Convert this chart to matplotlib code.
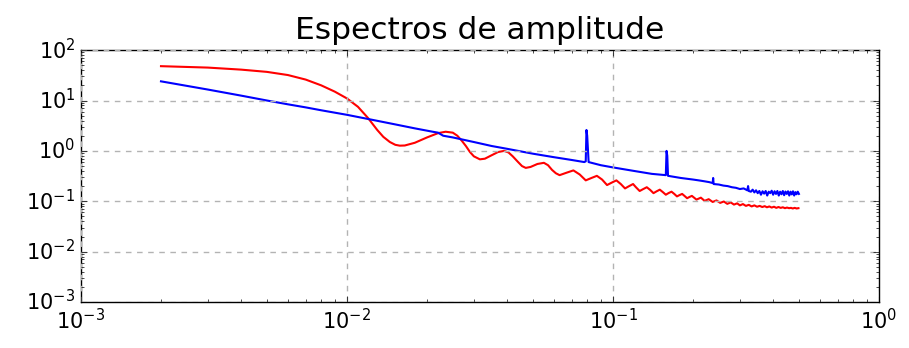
#!/usr/bin/env python3
import matplotlib
matplotlib.use('Agg')
import matplotlib.pyplot as plt

# Red spectrum (smooth, sinc-like lobes)
f_red = [0.002, 0.003, 0.004, 0.005, 0.006, 0.007, 0.008, 0.009, 0.010,
         0.011, 0.012, 0.013, 0.0137, 0.0145, 0.0152, 0.0158, 0.0165, 0.018,
         0.020, 0.022, 0.0235, 0.025, 0.026, 0.027, 0.028, 0.029, 0.030,
         0.0316, 0.033, 0.035, 0.037, 0.039, 0.0405, 0.042, 0.044, 0.0455,
         0.047, 0.049, 0.052, 0.055, 0.057, 0.059, 0.061, 0.063, 0.067,
         0.071, 0.075, 0.079, 0.083, 0.087, 0.091, 0.095, 0.099, 0.103,
         0.107, 0.111, 0.115, 0.119, 0.122, 0.126, 0.130, 0.134, 0.138,
         0.142, 0.146, 0.150, 0.154, 0.158, 0.162, 0.166, 0.170, 0.174,
         0.178, 0.182, 0.186, 0.190, 0.194, 0.198, 0.206, 0.214,
         0.221, 0.229, 0.237, 0.245, 0.253, 0.261, 0.269, 0.277, 0.285,
         0.293, 0.300, 0.308, 0.316, 0.324, 0.332, 0.340, 0.348, 0.356,
         0.364, 0.372, 0.379, 0.387, 0.395, 0.403, 0.411, 0.419, 0.427,
         0.435, 0.443, 0.451, 0.459, 0.467, 0.474, 0.482, 0.490, 0.498]
a_red = [48, 45, 41, 37, 32, 26, 20, 15, 11,
         7.5, 4.5, 2.6, 1.9, 1.5, 1.32, 1.27, 1.28, 1.45,
         1.85, 2.25, 2.4, 2.3, 2.0, 1.6, 1.25, 0.95, 0.78,
         0.68, 0.7, 0.82, 0.95, 1.0, 0.93, 0.78, 0.6, 0.5,
         0.46, 0.48, 0.55, 0.58, 0.52, 0.42, 0.36, 0.33, 0.37,
         0.41, 0.34, 0.26, 0.29, 0.32, 0.27, 0.21, 0.235, 0.26,
         0.22, 0.18, 0.2, 0.22, 0.19, 0.16, 0.175, 0.19, 0.168,
         0.145, 0.158, 0.17, 0.152, 0.135, 0.146, 0.155, 0.14, 0.125,
         0.133, 0.14, 0.127, 0.115, 0.122, 0.128, 0.108, 0.118,
         0.102, 0.11, 0.097, 0.104, 0.093, 0.099, 0.089, 0.095, 0.086,
         0.091, 0.083, 0.088, 0.081, 0.085, 0.079, 0.083, 0.078, 0.081,
         0.077, 0.080, 0.076, 0.079, 0.075, 0.078, 0.074, 0.077, 0.074,
         0.076, 0.073, 0.075, 0.073, 0.074, 0.072, 0.074, 0.072, 0.073]

# Blue spectrum (~1/f with harmonic peaks and noisy tail)
f_blue = [0.002, 0.003, 0.004, 0.005, 0.006, 0.007, 0.008, 0.010, 0.012,
          0.015, 0.018, 0.021, 0.022, 0.023, 0.025, 0.030, 0.035, 0.040,
          0.050, 0.060, 0.070, 0.078, 0.079, 0.0795, 0.080, 0.081, 0.090,
          0.100, 0.120, 0.140, 0.158, 0.159, 0.160, 0.161, 0.180, 0.200,
          0.210, 0.220, 0.230, 0.237, 0.238, 0.239, 0.250, 0.260, 0.270,
          0.280, 0.290, 0.300, 0.310, 0.320, 0.322, 0.324, 0.330, 0.335,
          0.340, 0.345, 0.350, 0.355, 0.360, 0.365, 0.370, 0.375, 0.380,
          0.385, 0.390, 0.395, 0.400, 0.405, 0.410, 0.415, 0.420, 0.425,
          0.430, 0.435, 0.440, 0.445, 0.450, 0.455, 0.460, 0.465, 0.470,
          0.475, 0.480, 0.485, 0.490, 0.495, 0.500]
a_blue = [24, 16.5, 12.5, 10, 8.4, 7.3, 6.4, 5.2, 4.3,
          3.4, 2.8, 2.4, 2.3, 2.0, 1.85, 1.5, 1.25, 1.1,
          0.88, 0.75, 0.66, 0.6, 0.62, 2.6, 2.0, 0.6, 0.52,
          0.47, 0.40, 0.35, 0.33, 1.0, 0.8, 0.32, 0.29, 0.27,
          0.26, 0.25, 0.24, 0.23, 0.29, 0.22, 0.215, 0.205, 0.2,
          0.19, 0.185, 0.175, 0.18, 0.165, 0.2, 0.16, 0.155, 0.17,
          0.15, 0.165, 0.145, 0.16, 0.135, 0.158, 0.142, 0.16, 0.13,
          0.155, 0.145, 0.162, 0.135, 0.158, 0.14, 0.16, 0.13, 0.155,
          0.138, 0.16, 0.132, 0.156, 0.14, 0.158, 0.13, 0.155, 0.137,
          0.158, 0.13, 0.152, 0.138, 0.155, 0.14]

plt.style.use('classic')
fig = plt.figure(figsize=(9.09, 3.48), dpi=100, facecolor='white')
ax = fig.add_axes([0.089, 0.132, 0.878, 0.724])

ax.loglog(f_red, a_red, color='r', lw=1.5)
ax.loglog(f_blue, a_blue, color='b', lw=1.5)

ax.set_xlim(1e-3, 1)
ax.set_ylim(1e-3, 1e2)
ax.grid(True, color='0.7', linestyle=(0, (4, 4)), linewidth=1)
ax.tick_params(labelsize=15)
ax.set_title('Espectros de amplitude', fontsize=22.5, pad=8)

fig.savefig('out.png', dpi=100, facecolor='white')
